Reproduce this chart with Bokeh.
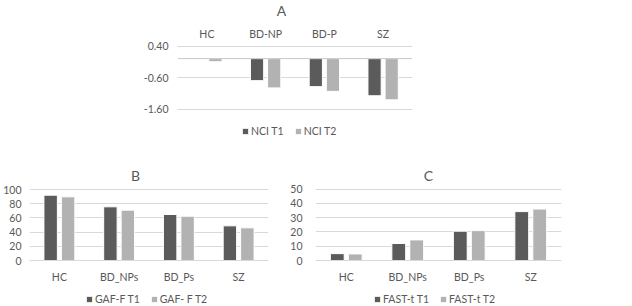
from bokeh.plotting import figure
from bokeh.layouts import column, row
from bokeh.models import (FixedTicker, NumeralTickFormatter, Label, Legend,
                          LegendItem, Span, Range1d)
from bokeh.embed import file_html
from bokeh.resources import INLINE

# ---------------- data ----------------
groups_A = ["HC", "BD-NP", "BD-P", "SZ"]
nci_t1 = [0.0, -0.70, -0.89, -1.18]
nci_t2 = [-0.10, -0.93, -1.04, -1.31]

groups_BC = ["HC", "BD_NPs", "BD_Ps", "SZ"]
gaf_t1 = [92.0, 75.6, 64.8, 48.8]
gaf_t2 = [89.7, 70.9, 62.4, 46.0]
fast_t1 = [4.8, 11.9, 20.5, 34.2]
fast_t2 = [4.6, 14.4, 20.9, 36.0]

ticks_A = [-1.6, -0.6, 0.4]
ticks_B = [0, 20, 40, 60, 80, 100]
ticks_C = [0, 10, 20, 30, 40, 50]

DARK = "#5b5b5b"
LIGHT = "#b2b2b2"
TXT = "#595959"
GRID = "#d9d9d9"
FONT = "Lato"
FS = "10.5px"

OFF = 0.146
BW = 0.225


def yrange(v_top, p_top, v_bot, p_bot, fig_top, fig_h):
    # value range of a frame spanning the whole figure height
    k = (p_bot - p_top) / (v_top - v_bot)
    end = v_top + (p_top - fig_top) / k
    start = v_bot - (fig_top + fig_h - p_bot) / k
    return start, end


def make_panel(width, height, lr, yr, yticks, yfmt, groups, s1, s2, names,
               title, title_xy, legend_xy, xaxis_side, xfix, xstand, ystand):
    left, right = lr
    p = figure(width=width, height=height, output_backend="svg",
               toolbar_location=None, x_range=Range1d(0, 4), y_range=Range1d(*yr),
               min_border_left=left, min_border_right=right,
               min_border_top=0, min_border_bottom=0,
               x_axis_location=xaxis_side)
    p.outline_line_color = None
    p.background_fill_color = "white"
    p.border_fill_color = "white"
    centers = [i + 0.5 for i in range(len(groups))]
    x1 = [c - OFF for c in centers]
    x2 = [c + OFF for c in centers]
    r1 = p.vbar(x=x1, top=s1, bottom=0, width=BW, fill_color=DARK,
                line_color="white", line_width=1)
    r2 = p.vbar(x=x2, top=s2, bottom=0, width=BW, fill_color=LIGHT,
                line_color="white", line_width=1)

    xa = p.xaxis[0]
    xa.fixed_location = xfix
    xa.ticker = FixedTicker(ticks=centers)
    xa.major_label_overrides = {c: g for c, g in zip(centers, groups)}
    xa.major_tick_line_color = None
    xa.major_tick_out = 0
    xa.major_tick_in = 0
    xa.minor_tick_line_color = None
    xa.axis_line_color = GRID if xaxis_side == "below" else None
    xa.major_label_text_font = FONT
    xa.major_label_text_font_size = FS
    xa.major_label_text_color = TXT
    xa.major_label_standoff = xstand

    ya = p.yaxis[0]
    ya.ticker = FixedTicker(ticks=yticks)
    ya.formatter = NumeralTickFormatter(format=yfmt)
    ya.major_tick_line_color = None
    ya.major_tick_out = 0
    ya.major_tick_in = 0
    ya.minor_tick_line_color = None
    ya.axis_line_color = None
    ya.major_label_text_font = FONT
    ya.major_label_text_font_size = FS
    ya.major_label_text_color = TXT
    ya.major_label_standoff = ystand

    p.xgrid.grid_line_color = None
    p.ygrid.grid_line_color = GRID
    p.ygrid.grid_line_width = 1

    p.add_layout(Label(x=title_xy[0], y=title_xy[1], x_units="screen",
                       y_units="screen", text=title, text_font=FONT,
                       text_font_size="14px", text_color=TXT,
                       text_align="center", text_baseline="middle"))

    leg = Legend(items=[LegendItem(label=names[0], renderers=[r1]),
                        LegendItem(label=names[1], renderers=[r2])],
                 location=legend_xy, orientation="horizontal",
                 padding=0, margin=0, spacing=10, label_standoff=2,
                 glyph_width=8, glyph_height=8, label_height=10,
                 label_text_font=FONT, label_text_font_size=FS,
                 label_text_color=TXT, border_line_alpha=0,
                 background_fill_alpha=0)
    p.add_layout(leg, "center")
    return p


# panel A: 0.40 at y=45.5, -1.60 at y=108.5, figure spans y 0..150
yrA = yrange(0.4, 45.5, -1.6, 108.5, 0, 150)
pA = make_panel(632, 150, (177, 220), yrA, ticks_A, "0.00",
                groups_A, nci_t1, nci_t2, ["NCI T1", "NCI T2"],
                "A", (104, 140), (64, 13), "above", 0.4, 6, 9)
pA.add_layout(Span(location=0, dimension="width", line_color="#c8c8c8",
                   line_width=1))

# panel B: 100 at y=189, 0 at y=260, figure spans y 150..306
yrB = yrange(100, 189, 0, 260, 150, 156)
pB = make_panel(280, 156, (25, 12), yrB, ticks_B, "0",
                groups_BC, gaf_t1, gaf_t2, ["GAF-F T1", "GAF- F T2"],
                "B", (106, 131), (56, 1), "below", 0, 10, 8)

# panel C: 50 at y=188.5, 0 at y=260
yrC = yrange(50, 188.5, 0, 260, 150, 156)
pC = make_panel(352, 156, (35, 71), yrC, ticks_C, "0",
                groups_BC, fast_t1, fast_t2, ["FAST-t T1", "FAST-t T2"],
                "C", (113, 131), (58, 1), "below", 0, 10, 13)

layout = column(pA, row(pB, pC, spacing=0), spacing=0)
open("out.html", "w").write(file_html(layout, INLINE))
